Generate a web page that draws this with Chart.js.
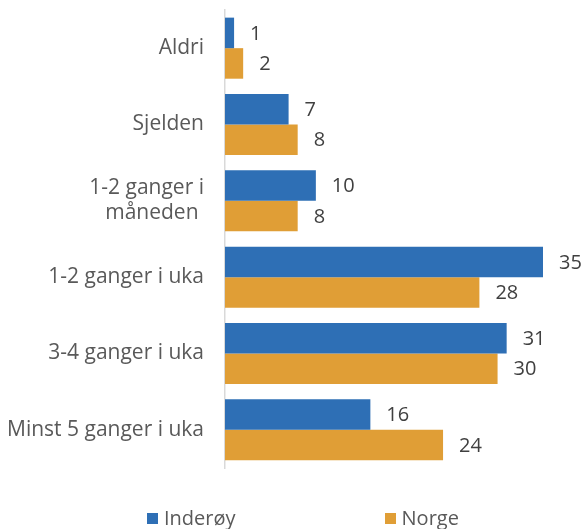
<!DOCTYPE html>
<html>
<head>
<meta charset="utf-8">
<script src="https://cdn.jsdelivr.net/npm/chart.js@4.4.1/dist/chart.umd.min.js"></script>
<style>
  html, body { margin: 0; padding: 0; background: #fff; }
  #wrap { position: relative; width: 585px; height: 529px; }
  #legend { position: absolute; left: 147px; top: 505px; display: flex; gap: 149px;
            font-family: "Open Sans", sans-serif; font-size: 20px; color: #595959; line-height: 26px; }
  #legend span.item { display: flex; align-items: center; }
  #legend i { display: inline-block; width: 11px; height: 11px; margin-right: 6px; }
</style>
</head>
<body>
<div id="wrap">
  <canvas id="graf" width="585" height="529"></canvas>
  <div id="legend"></div>
</div>
<script>
const kategorier = ['Aldri', 'Sjelden', ['1-2 ganger i', 'måneden '], '1-2 ganger i uka', '3-4 ganger i uka', 'Minst 5 ganger i uka'];
const inderoy = [1, 7, 10, 35, 31, 16];
const norge   = [2, 8, 8, 28, 30, 24];
const serier  = ['Inderøy', 'Norge'];
const farger  = ['#2E6FB5', '#E09E36'];

// tall ved enden av hver stolpe
const verdiEtiketter = {
  id: 'verdiEtiketter',
  afterDatasetsDraw(chart){
    const ctx = chart.ctx;
    ctx.save();
    ctx.font = '20px "Open Sans"';
    ctx.fillStyle = '#404040';
    ctx.textAlign = 'left';
    ctx.textBaseline = 'middle';
    chart.data.datasets.forEach((ds, i) => {
      chart.getDatasetMeta(i).data.forEach((bar, j) => {
        ctx.fillText(ds.data[j], bar.x + 16, bar.y + 1);
      });
    });
    ctx.restore();
  }
};

const ctx = document.getElementById('graf').getContext('2d');
new Chart(ctx, {
  type: 'bar',
  data: {
    labels: kategorier,
    datasets: [
      { label: serier[0], data: inderoy, backgroundColor: farger[0] },
      { label: serier[1], data: norge,   backgroundColor: farger[1] }
    ]
  },
  options: {
    indexAxis: 'y',
    responsive: false,
    animation: false,
    categoryPercentage: 0.8,
    barPercentage: 1.0,
    layout: { padding: { top: 10, right: 42, bottom: 61, left: 0 } },
    scales: {
      x: { display: false, min: 0, max: 35 },
      y: {
        afterFit: (scale) => { scale.width = 225; scale.paddingTop = 0; scale.paddingBottom = 0; },
        grid: { display: false, drawTicks: false },
        border: { display: true, color: '#D9D9D9', width: 1.5 },
        ticks: { padding: 21, color: '#595959', font: { family: '"Open Sans"', size: 21 } }
      }
    },
    plugins: {
      legend: { display: false },
      tooltip: { enabled: false }
    }
  },
  plugins: [verdiEtiketter]
});

// forklaring under grafen
const leg = document.getElementById('legend');
serier.forEach((navn, i) => {
  const s = document.createElement('span');
  s.className = 'item';
  s.innerHTML = '<i style="background:' + farger[i] + '"></i>' + navn;
  leg.appendChild(s);
});
</script>
</body>
</html>
